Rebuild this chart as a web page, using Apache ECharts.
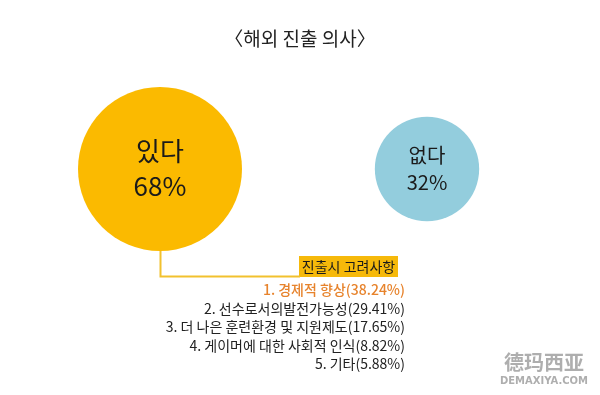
<!DOCTYPE html>
<html><head><meta charset="utf-8">
<script src="https://cdn.jsdelivr.net/npm/echarts@6/dist/echarts.min.js"></script>
<style>html,body{margin:0;padding:0;background:#fff}#c{width:600px;height:395px}</style>
</head><body><div id="c"></div>
<script>
const title = '〈해외 진출 의사〉';
const categories = ['있다', '없다'];
const shares = [68, 32];
const factorTitle = '진출시 고려사항';
const factorNames = ['경제적 향상', '선수로서의발전가능성', '더 나은 훈련환경 및 지원제도', '게이머에 대한 사회적 인식', '기타'];
const factorValues = [38.24, 29.41, 17.65, 8.82, 5.88];

const FONT = '"Noto Sans CJK KR", "Noto Sans", sans-serif';
const colors = ['#FBBA00', '#93CDDD'];
const labelSizes = [26, 20];

const chart = echarts.init(document.getElementById('c'));
const seriesData = categories.map((c, i) => ({
  name: c,
  value: [c, 0, shares[i]],
  itemStyle: { color: colors[i], opacity: 1 },
  label: { fontSize: labelSizes[i], lineHeight: labelSizes[i] * 1.35 }
}));

const listTop = 290;
const listStep = 18.4;
const graphics = [
  { type: 'polyline', shape: { points: [[160.5, 246], [160.5, 276.5], [300, 276.5]] },
    style: { stroke: '#F2C12E', lineWidth: 2, fill: null }, z: 1 },
  { type: 'rect', shape: { x: 299, y: 256, width: 99, height: 21 }, style: { fill: '#F6B90A' } },
  { type: 'text', x: 348.5, y: 266.5, style: { text: factorTitle, font: '14px ' + FONT, fill: '#1a1a1a', textAlign: 'center', textVerticalAlign: 'middle' } }
];
factorNames.forEach((n, i) => {
  graphics.push({ type: 'text', x: 405, y: listTop + i * listStep,
    style: { text: (i + 1) + '. ' + n + '(' + factorValues[i].toFixed(2) + '%)',
      font: (i === 0 ? '500 ' : '') + '14px ' + FONT,
      fill: i === 0 ? '#E7832C' : '#222', textAlign: 'right', textVerticalAlign: 'middle' } });
});
graphics.push({ type: 'text', x: 544, y: 362, style: { text: '德玛西亚', font: 'bold 20px "Noto Sans CJK SC", sans-serif', fill: '#9a9a9a', textAlign: 'center', textVerticalAlign: 'middle', opacity: 0.8 } });
graphics.push({ type: 'text', x: 544, y: 381, style: { text: 'DEMAXIYA.COM', font: 'bold 10px "DejaVu Sans", sans-serif', fill: '#9a9a9a', textAlign: 'center', textVerticalAlign: 'middle', opacity: 0.8 } });

chart.setOption({
  animation: false,
  backgroundColor: '#fff',
  title: { text: title, left: 'center', top: 24, textStyle: { fontFamily: FONT, fontSize: 19, fontWeight: 'normal', color: '#222' } },
  grid: { left: 26.5, width: 534, top: 69, height: 200 },
  xAxis: { type: 'category', data: categories, show: false, boundaryGap: true },
  yAxis: { type: 'value', min: -1, max: 1, show: false },
  series: [{
    type: 'scatter',
    data: seriesData,
    symbolSize: v => 164 * Math.pow(v[2] / shares[0], 0.6),
    label: { show: true, position: 'inside', formatter: p => p.name + '\n' + p.value[2] + '%', color: '#1a1a1a', fontFamily: FONT },
    emphasis: { disabled: true }
  }],
  graphic: graphics
});
</script></body></html>
